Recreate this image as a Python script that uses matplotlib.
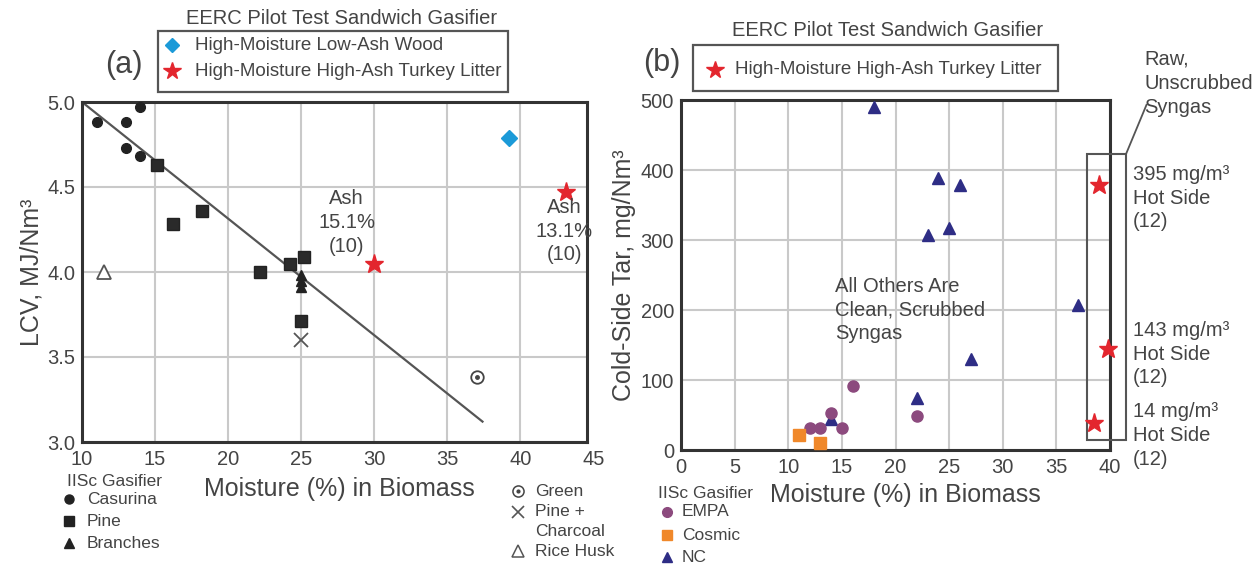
import matplotlib
matplotlib.use('Agg')
import matplotlib.pyplot as plt
from matplotlib.patches import Rectangle
from matplotlib.lines import Line2D

plt.rcParams['font.family'] = ['Liberation Sans', 'DejaVu Sans']

# ---------------- data: panel (a) ----------------
casurina_x = [11, 13, 14, 13, 14]
casurina_y = [4.88, 4.88, 4.97, 4.73, 4.68]
pine_x = [15.1, 16.2, 18.2, 22.2, 24.2, 25.2, 25.0]
pine_y = [4.63, 4.28, 4.36, 4.00, 4.05, 4.09, 3.71]
branches_x = [25, 25, 25]
branches_y = [3.98, 3.95, 3.91]
rice_x = [11.5]
rice_y = [4.0]
charcoal_x = [25]
charcoal_y = [3.6]
green_x = [37]
green_y = [3.38]
wood_x = [39.2]
wood_y = [4.79]
turkey_a_x = [30, 43.1]
turkey_a_y = [4.05, 4.47]
fit_x = [10, 37.4]
fit_y = [5.0, 3.12]
xticks_a = [10, 15, 20, 25, 30, 35, 40, 45]
yticks_a = [3.0, 3.5, 4.0, 4.5, 5.0]

# ---------------- data: panel (b) ----------------
empa_x = [16, 14, 12, 13, 15, 22]
empa_y = [91, 53, 32, 32, 32, 48]
cosmic_x = [11, 13]
cosmic_y = [21, 10]
nc_x = [18, 24, 26, 23, 25, 37, 27, 22, 14]
nc_y = [490, 388, 378, 307, 317, 207, 130, 75, 45]
turkey_b_x = [39, 39.8, 38.5]
turkey_b_y = [378, 144, 39]
turkey_b_labels = ['395 mg/m³\nHot Side\n(12)', '143 mg/m³\nHot Side\n(12)', '14 mg/m³\nHot Side\n(12)']
xticks_b = [0, 5, 10, 15, 20, 25, 30, 35, 40]
yticks_b = [0, 100, 200, 300, 400, 500]

# ---------------- style ----------------
W, H = 1260, 565
TXT = '#444444'
SPINE = '#333333'
GRID = '#c9c9c9'
BLACK = '#222222'
BLUE = '#1b9ad8'
RED = '#e3262e'
PURPLE = '#8c4a7e'
ORANGE = '#f0882a'
NAVY = '#2e2d85'
TICK_FS = 14.5
LAB_FS = 18
ANN_FS = 14.5
LSP = 1.32

fig = plt.figure(figsize=(12.6, 5.65), dpi=100)


def fx(p):
    return p / W


def fy(p):
    return 1 - p / H


def style_axes(ax):
    for s in ax.spines.values():
        s.set_color(SPINE)
        s.set_linewidth(2.2)
    ax.tick_params(length=0, labelsize=TICK_FS, labelcolor=TXT)
    ax.grid(True, color=GRID, linewidth=1.5)
    ax.set_axisbelow(True)


# ================= panel (a) =================
ax1 = fig.add_axes([fx(82), fy(442), (587 - 82) / W, (442 - 102) / H])
style_axes(ax1)
ax1.set_xlim(10, 44.55)
ax1.set_ylim(3.0, 5.0)
ax1.set_xticks(xticks_a[:-1])
ax1.set_yticks(yticks_a)
ax1.set_yticklabels([f'{v:.1f}' for v in yticks_a])
ax1.tick_params(axis='x', pad=6)
ax1.tick_params(axis='y', pad=5)
ax1.annotate(str(xticks_a[-1]), xy=(xticks_a[-1], 0), xycoords=('data', 'axes fraction'),
             xytext=(0, -6), textcoords='offset points', ha='center', va='top',
             fontsize=TICK_FS, color=TXT, annotation_clip=False)

ax1.plot(fit_x, fit_y, color='#555555', lw=1.6, zorder=2)
ax1.plot(casurina_x, casurina_y, 'o', color=BLACK, ms=7, ls='none', zorder=3)
ax1.plot(pine_x, pine_y, 's', color=BLACK, mfc='#2a2a2a', ms=8.5, ls='none', zorder=3)
ax1.plot(branches_x, branches_y, '^', color=BLACK, ms=7, ls='none', zorder=3)
ax1.plot(rice_x, rice_y, '^', mfc='white', mec='#555555', mew=1.3, ms=10, ls='none', zorder=3)
ax1.plot(charcoal_x, charcoal_y, 'x', color='#555555', mew=1.3, ms=10, ls='none', zorder=3)
ax1.plot(green_x, green_y, 'o', mfc='white', mec='#444444', mew=1.3, ms=9, ls='none', zorder=3)
ax1.plot(green_x, green_y, 'o', color='#444444', ms=2.5, ls='none', zorder=4)
ax1.plot(wood_x, wood_y, 'D', color=BLUE, ms=8, ls='none', zorder=3)
ax1.plot(turkey_a_x, turkey_a_y, '*', color=RED, ms=14, ls='none', zorder=3)

ax1.text(28.1, 4.29, 'Ash\n15.1%\n(10)', ha='center', va='center', fontsize=ANN_FS,
         color=TXT, linespacing=LSP)
ax1.text(43.0, 4.24, 'Ash\n13.1%\n(10)', ha='center', va='center', fontsize=ANN_FS,
         color=TXT, linespacing=LSP, clip_on=False)

ax1.set_ylabel('LCV, MJ/Nm³', fontsize=LAB_FS, color=TXT)
ax1.yaxis.set_label_coords(-0.077, 0.5)
ax1.set_xlabel('Moisture (%) in Biomass', fontsize=LAB_FS, color=TXT)
ax1.xaxis.set_label_coords(0.509, -0.103)

# ================= panel (b) =================
ax2 = fig.add_axes([fx(681), fy(450), (1110 - 681) / W, (450 - 100) / H])
style_axes(ax2)
ax2.set_xlim(0, 40)
ax2.set_ylim(0, 500)
ax2.set_xticks(xticks_b)
ax2.set_yticks(yticks_b)
ax2.tick_params(axis='x', pad=6)
ax2.tick_params(axis='y', pad=5)

ax2.plot(nc_x, nc_y, '^', color=NAVY, ms=8, ls='none', zorder=3)
ax2.plot(empa_x, empa_y, 'o', color=PURPLE, ms=8, ls='none', zorder=4)
ax2.plot(cosmic_x, cosmic_y, 's', color=ORANGE, ms=8, ls='none', zorder=4)
ax2.plot(turkey_b_x, turkey_b_y, '*', color=RED, ms=14, ls='none', zorder=5, clip_on=False)

ax2.add_patch(Rectangle((37.9, 14), 3.6, 409, fill=False, ec='#555555', lw=1.5,
                        clip_on=False, zorder=4))
ax2.add_line(Line2D([41.5, 43.4], [423, 493], color='#555555', lw=1.3, clip_on=False))
ax2.text(43.2, 524, 'Raw,\nUnscrubbed\nSyngas', ha='left', va='center', fontsize=ANN_FS,
         color=TXT, linespacing=LSP, clip_on=False)
for ty, lab in zip([360, 137, 21], turkey_b_labels):
    ax2.text(42.15, ty, lab, ha='left', va='center', fontsize=ANN_FS, color=TXT,
             linespacing=LSP, clip_on=False)
ax2.text(14.4, 200, 'All Others Are\nClean, Scrubbed\nSyngas', ha='left', va='center',
         fontsize=ANN_FS, color=TXT, linespacing=LSP)

ax2.set_ylabel('Cold-Side Tar, mg/Nm³', fontsize=LAB_FS, color=TXT)
ax2.yaxis.set_label_coords(-0.105, 0.5)
ax2.set_xlabel('Moisture (%) in Biomass', fontsize=LAB_FS, color=TXT)
ax2.xaxis.set_label_coords(0.524, -0.094)

# ================= titles / legend boxes =================
fig.text(fx(342), fy(18), 'EERC Pilot Test Sandwich Gasifier', ha='center', va='center',
         fontsize=14.5, color=TXT)
fig.text(fx(888), fy(30), 'EERC Pilot Test Sandwich Gasifier', ha='center', va='center',
         fontsize=14.5, color=TXT)
fig.text(fx(124), fy(65), '(a)', ha='center', va='center', fontsize=22, color=TXT)
fig.text(fx(662), fy(63), '(b)', ha='center', va='center', fontsize=22, color=TXT)

fig.add_artist(Rectangle((fx(158), fy(92)), (508 - 158) / W, (92 - 31) / H, fill=False,
                         ec='#555555', lw=1.6, transform=fig.transFigure))
fig.add_artist(Rectangle((fx(693), fy(91)), (1058 - 693) / W, (91 - 45) / H, fill=False,
                         ec='#555555', lw=1.6, transform=fig.transFigure))


def fig_marker(px, py, **kw):
    fig.add_artist(Line2D([fx(px)], [fy(py)], transform=fig.transFigure, ls='none', **kw))


LEG_FS = 13.5
fig_marker(172, 45, marker='D', color=BLUE, ms=7)
fig.text(fx(195), fy(45), 'High-Moisture Low-Ash Wood', ha='left', va='center', fontsize=LEG_FS, color=TXT)
fig_marker(172, 71, marker='*', color=RED, ms=13)
fig.text(fx(195), fy(71), 'High-Moisture High-Ash Turkey Litter', ha='left', va='center', fontsize=LEG_FS, color=TXT)

fig_marker(715, 70, marker='*', color=RED, ms=13)
fig.text(fx(735), fy(70), 'High-Moisture High-Ash Turkey Litter', ha='left', va='center', fontsize=LEG_FS, color=TXT)

# ================= bottom keys =================
LS = 12.5
fig.text(fx(67), fy(482), 'IISc Gasifier', ha='left', va='center', fontsize=LS, color=TXT)
for m, lab, py in [('o', 'Casurina', 499), ('s', 'Pine', 521), ('^', 'Branches', 543)]:
    fig_marker(69, py, marker=m, color=BLACK, ms=6.5)
    fig.text(fx(87), fy(py), lab, ha='left', va='center', fontsize=LS, color=TXT)

fig_marker(518, 491, marker='o', mfc='white', mec='#444444', mew=1.1, ms=8)
fig_marker(518, 491, marker='o', color='#444444', ms=2)
fig.text(fx(535), fy(491), 'Green', ha='left', va='center', fontsize=LS, color=TXT)
fig_marker(518, 512, marker='x', color='#555555', mew=1.2, ms=9)
fig.text(fx(535), fy(512), 'Pine +', ha='left', va='center', fontsize=LS, color=TXT)
fig.text(fx(535), fy(531), 'Charcoal', ha='left', va='center', fontsize=LS, color=TXT)
fig_marker(518, 551, marker='^', mfc='white', mec='#555555', mew=1.1, ms=9)
fig.text(fx(535), fy(551), 'Rice Husk', ha='left', va='center', fontsize=LS, color=TXT)

fig.text(fx(658), fy(493), 'IISc Gasifier', ha='left', va='center', fontsize=LS, color=TXT)
for m, c, lab, py in [('o', PURPLE, 'EMPA', 512), ('s', ORANGE, 'Cosmic', 535), ('^', NAVY, 'NC', 557)]:
    fig_marker(667, py, marker=m, color=c, ms=7)
    fig.text(fx(682), fy(py), lab, ha='left', va='center', fontsize=LS, color=TXT)

fig.savefig('out.png', dpi=100, facecolor='white')
